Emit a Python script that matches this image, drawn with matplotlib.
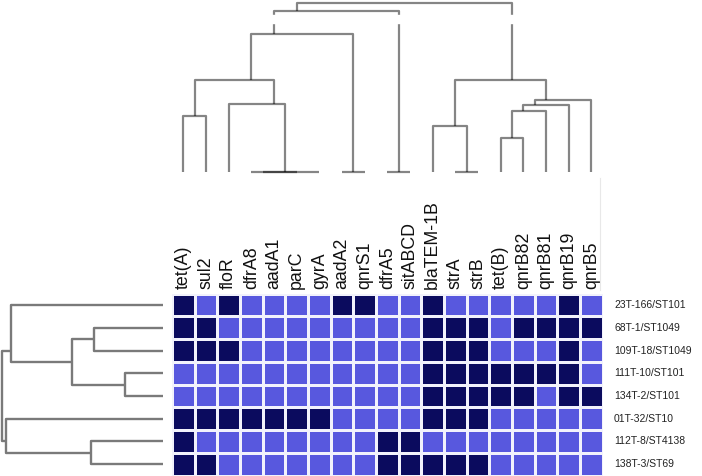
import matplotlib
matplotlib.use("Agg")
import matplotlib.pyplot as plt
import numpy as np
from matplotlib.colors import ListedColormap
from matplotlib.lines import Line2D

plt.rcParams['font.family'] = ['Liberation Sans', 'DejaVu Sans']

# genes (columns) and isolates (rows)
genes = ['tet(A)', 'sul2', 'floR', 'dfrA8', 'aadA1', 'parC', 'gyrA', 'aadA2', 'qnrS1',
         'dfrA5', 'sitABCD', 'blaTEM-1B', 'strA', 'strB', 'tet(B)', 'qnrB82', 'qnrB81',
         'qnrB19', 'qnrB5']
isolates = ['23T-166/ST101', '68T-1/ST1049', '109T-18/ST1049', '111T-10/ST101',
            '134T-2/ST101', '01T-32/ST10', '112T-8/ST4138', '138T-3/ST69']

# presence (1) / absence (0)
presence = np.array([
    [1, 0, 1, 0, 0, 0, 0, 1, 1, 0, 0, 1, 0, 0, 0, 0, 0, 1, 0],
    [1, 1, 0, 0, 0, 0, 0, 0, 0, 0, 0, 1, 1, 1, 0, 1, 1, 1, 1],
    [1, 1, 1, 0, 0, 0, 0, 0, 0, 0, 0, 1, 1, 1, 0, 0, 0, 1, 0],
    [0, 0, 0, 0, 0, 0, 0, 0, 0, 0, 0, 1, 1, 1, 1, 1, 1, 1, 0],
    [0, 0, 0, 0, 0, 0, 0, 0, 0, 0, 0, 1, 1, 1, 1, 1, 0, 1, 1],
    [1, 1, 1, 1, 1, 1, 1, 0, 0, 0, 0, 1, 1, 1, 0, 0, 0, 0, 0],
    [1, 0, 0, 0, 0, 0, 0, 0, 0, 1, 1, 0, 0, 0, 0, 0, 0, 0, 0],
    [1, 1, 0, 0, 0, 0, 0, 0, 0, 1, 1, 1, 1, 1, 0, 0, 0, 0, 0],
])

# dendrogram merges: (left child, right child, height); ids >= n are earlier merges
col_merges = [
    (3, 4, 0), (19, 5, 0), (20, 6, 0),
    (0, 1, 56), (2, 21, 68), (22, 23, 92),
    (7, 8, 0), (24, 25, 138),
    (9, 10, 0), (26, 27, 161),
    (12, 13, 0), (11, 29, 46),
    (14, 15, 34), (31, 16, 61), (32, 17, 67), (33, 18, 72),
    (30, 34, 92), (28, 35, 169),
]
row_merges = [
    (1, 2, 69), (3, 4, 38), (8, 9, 91), (0, 10, 152),
    (6, 7, 72), (5, 12, 157), (11, 13, 161),
]


def dendro_segments(merges, n):
    # node position = mean of its leaves, horizontal spans the two children
    leaves = {i: [i] for i in range(n)}
    height = {i: 0.0 for i in range(n)}
    segs = []
    for k, (a, b, h) in enumerate(merges):
        xa = np.mean(leaves[a])
        xb = np.mean(leaves[b])
        segs.append(([xa, xa, xb, xb], [height[a], h, h, height[b]]))
        leaves[n + k] = leaves[a] + leaves[b]
        height[n + k] = h
    return segs


W, H = 702, 476
fig = plt.figure(figsize=(W / 100, H / 100), dpi=100)

# heatmap
hx0, hx1, hy0, hy1 = 172, 602.7, 293.7, 475.6
ax = fig.add_axes([hx0 / W, 1 - hy1 / H, (hx1 - hx0) / W, (hy1 - hy0) / H])
cmap = ListedColormap(['#5858de', '#0b0b5e'])
ax.pcolormesh(np.arange(len(genes) + 1) - 0.5, np.arange(len(isolates) + 1) - 0.5,
              presence, cmap=cmap, vmin=0, vmax=1,
              edgecolors='#f2f2fc', linewidth=1.9)
ax.set_xlim(-0.5, len(genes) - 0.5)
ax.set_ylim(len(isolates) - 0.5, -0.5)
ax.axis('off')

for i, g in enumerate(genes):
    ax.text(i, -0.7, g, rotation=90, ha='center', va='bottom', fontsize=12.8,
            color='#111111', clip_on=False)
for j, s in enumerate(isolates):
    ax.text(19.0, j, s, ha='left', va='center', fontsize=7.5, color='#222222',
            clip_on=False)

# column dendrogram
dc = fig.add_axes([hx0 / W, 1 - 172 / H, (hx1 - hx0) / W, 172 / H])
for xs, ys in dendro_segments(col_merges, len(genes)):
    dc.plot(xs, ys, color='black', alpha=0.48, lw=1.6, solid_capstyle='butt',
            clip_on=False)
dc.axhspan(149, 157, color='white', zorder=3)
dc.set_xlim(-0.5, len(genes) - 0.5)
dc.set_ylim(0, 172)
dc.axis('off')

# row dendrogram
dr = fig.add_axes([0, 1 - hy1 / H, 163 / W, (hy1 - hy0) / H])
for ys, xs in dendro_segments(row_merges, len(isolates)):
    dr.plot(xs, ys, color='#7a7a7a', lw=1.7, solid_capstyle='butt', clip_on=False)
dr.set_xlim(163, 0)
dr.set_ylim(len(isolates) - 0.5, -0.5)
dr.axis('off')

# faint panel edge right of the gene labels
fig.add_artist(Line2D([600 / W, 600 / W], [1 - 178 / H, 1 - 290 / H],
                      transform=fig.transFigure, color='#e8e8e8', lw=0.8))

fig.savefig('out.png', dpi=100)
